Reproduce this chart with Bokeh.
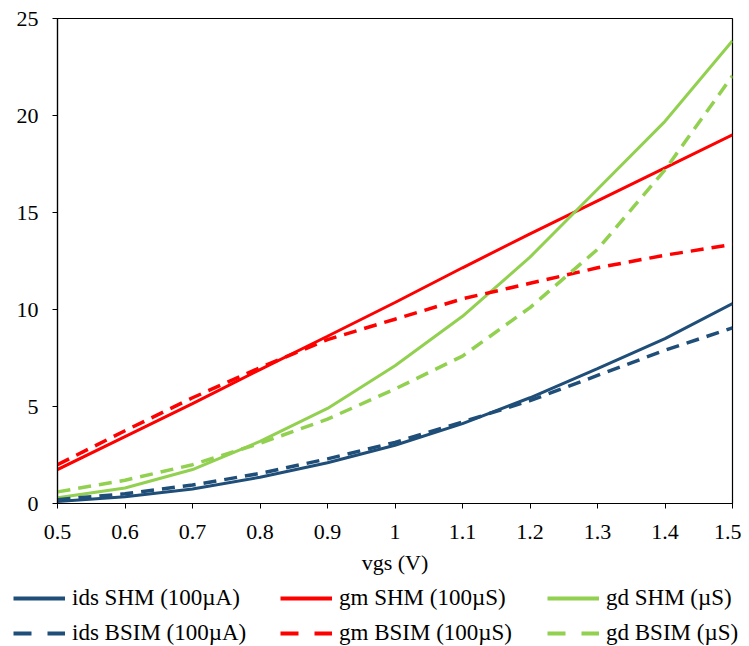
from bokeh.plotting import figure
from bokeh.models import Range1d, FixedTicker, Legend, LegendItem
from bokeh.layouts import column
from bokeh.embed import file_html
from bokeh.resources import INLINE

vgs = [0.5, 0.6, 0.7, 0.8, 0.9, 1.0, 1.1, 1.2, 1.3, 1.4, 1.5]
ids_shm = [0.1, 0.35, 0.75, 1.35, 2.1, 3.0, 4.12, 5.45, 6.95, 8.5, 10.3]
ids_bsim = [0.2, 0.5, 0.95, 1.55, 2.3, 3.15, 4.2, 5.3, 6.6, 7.9, 9.05]
gm_shm = [1.75, 3.45, 5.15, 6.9, 8.62, 10.36, 12.15, 13.9, 15.6, 17.3, 19.0]
gm_bsim = [2.0, 3.75, 5.45, 7.0, 8.45, 9.5, 10.55, 11.35, 12.15, 12.8, 13.35]
gd_shm = [0.3, 0.8, 1.75, 3.2, 4.9, 7.1, 9.65, 12.7, 16.2, 19.7, 23.85]
gd_bsim = [0.6, 1.2, 2.0, 3.1, 4.35, 5.9, 7.6, 10.1, 13.1, 17.2, 22.05]
y_ticks = [0, 5, 10, 15, 20, 25]

labels = ["ids SHM (100µA)", "gm SHM (100µS)", "gd SHM (µS)",
          "ids BSIM (100µA)", "gm BSIM (100µS)", "gd BSIM (µS)"]

NAVY = "#1F4E79"
RED = "#FF0000"
GREEN = "#92D050"
FONT = "Liberation Serif"
FS = "22px"

p = figure(width=741, height=578, output_backend="svg", toolbar_location=None,
           x_range=Range1d(0.5, 1.5), y_range=Range1d(0, 25),
           min_border_left=57, min_border_right=9, min_border_top=18,
           min_border_bottom=75)
p.xgrid.visible = False
p.ygrid.visible = False
p.outline_line_color = "black"
p.outline_line_width = 1.2
p.outline_line_alpha = 1

for ax in (p.xaxis[0], p.yaxis[0]):
    ax.axis_line_color = "black"
    ax.axis_line_width = 1.2
    ax.major_tick_line_color = "black"
    ax.major_tick_in = 0
    ax.major_tick_out = 5
    ax.minor_tick_line_color = None
    ax.major_label_text_font = FONT
    ax.major_label_text_font_size = FS
    ax.major_label_text_color = "black"

p.xaxis[0].ticker = FixedTicker(ticks=vgs)
p.xaxis[0].major_label_standoff = 16
p.yaxis[0].ticker = FixedTicker(ticks=y_ticks)
p.yaxis[0].major_label_standoff = 14
p.xaxis[0].axis_label = "vgs (V)"
p.xaxis[0].axis_label_text_font = FONT
p.xaxis[0].axis_label_text_font_size = FS
p.xaxis[0].axis_label_text_font_style = "normal"
p.xaxis[0].axis_label_text_color = "black"
p.xaxis[0].axis_label_standoff = 8

series = [ids_shm, gm_shm, gd_shm, ids_bsim, gm_bsim, gd_bsim]
colors = [NAVY, RED, GREEN, NAVY, RED, GREEN]
plot_dash = ["solid"] * 3 + ["13 8"] * 3
widths = [3, 3, 3, 3.5, 3.5, 3.5]
for s, c, d, w in zip(series, colors, plot_dash, widths):
    p.line(vgs, s, line_color=c, line_width=w, line_dash=d)

# legend strip below the chart (its lines lie outside its visible range)
q = figure(width=741, height=68, output_backend="svg", toolbar_location=None,
           x_range=Range1d(0, 1), y_range=Range1d(100, 101),
           x_axis_location=None, y_axis_location=None,
           min_border=0, min_border_left=0, min_border_right=0,
           min_border_top=0, min_border_bottom=0)
q.frame_align = False
q.grid.visible = False
q.outline_line_color = None
leg_dash = ["solid"] * 3 + ["18 16"] * 3
rs = [q.line(vgs, s, line_color=c, line_width=4, line_dash=d)
      for s, c, d in zip(series, colors, leg_dash)]

col_x = [13, 280, 547]
for k in range(3):
    items = [LegendItem(label=labels[k], renderers=[rs[k]]),
             LegendItem(label=labels[k + 3], renderers=[rs[k + 3]])]
    lg = Legend(items=items, location=(col_x[k], 0), orientation="vertical",
                label_text_font=FONT, label_text_font_size="23px",
                label_text_color="black",
                glyph_width=52, glyph_height=20, label_height=20,
                label_standoff=7, spacing=9, padding=0, margin=0,
                border_line_alpha=0, background_fill_alpha=0)
    q.add_layout(lg, "center")

open("out.html", "w").write(file_html(column(p, q, spacing=0), INLINE))
